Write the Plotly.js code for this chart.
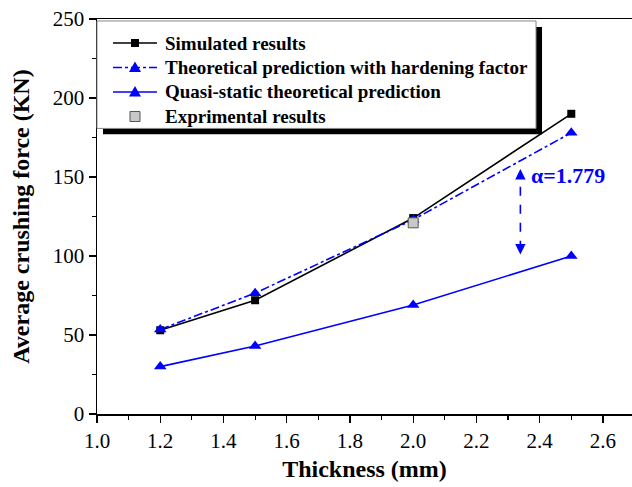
<!DOCTYPE html>
<html>
<head>
<meta charset="utf-8">
<script src="https://cdn.plot.ly/plotly-3.0.1.min.js"></script>
<style>html,body{margin:0;padding:0;background:#fff;}#chart{width:632px;height:487px;}</style>
</head>
<body>
<div id="chart"></div>
<script>
// ---- data ----
const thickness = [1.2, 1.5, 2.0, 2.5];
const simulated = [53, 72, 124, 190];
const hardening = [53.5, 76.5, 123, 178];
const quasiStatic = [30, 43, 69, 100];
const expThickness = [2.0];
const experimental = [121];
const seriesNames = ['Simulated results', 'Theoretical prediction with hardening factor',
                     'Quasi-static theoretical prediction', 'Exprimental results'];
const xTickVals = [1.0, 1.2, 1.4, 1.6, 1.8, 2.0, 2.2, 2.4, 2.6];
const xTickText = ['1.0', '1.2', '1.4', '1.6', '1.8', '2.0', '2.2', '2.4', '2.6'];
const yTickVals = [0, 50, 100, 150, 200, 250];
const alphaLabel = 'α=1.779';
const alphaArrowX = 2.339;
const alphaArrowTop = 155;
const alphaArrowBottom = 101;
const alphaTextPos = [2.49, 151];

const FONT = 'Liberation Serif, Times New Roman, serif';
const BLUE = '#0000ff';

const styles = [
  {line: {color: '#000', width: 1.6}, marker: {symbol: 'square', size: 8, color: '#000'}},
  {line: {color: BLUE, width: 1.6, dash: 'dashdot'}, marker: {symbol: 'triangle-up', size: 11, color: BLUE}},
  {line: {color: BLUE, width: 1.6}, marker: {symbol: 'triangle-up', size: 11, color: BLUE}},
  {line: null, marker: {symbol: 'square', size: 10, color: '#c8c8c8', line: {color: '#555', width: 1}}}
];

const traces = [
  {x: thickness, y: simulated, name: seriesNames[0], mode: 'lines+markers', line: styles[0].line, marker: styles[0].marker},
  {x: thickness, y: hardening, name: seriesNames[1], mode: 'lines+markers', line: styles[1].line, marker: styles[1].marker},
  {x: thickness, y: quasiStatic, name: seriesNames[2], mode: 'lines+markers', line: styles[2].line, marker: styles[2].marker},
  {x: expThickness, y: experimental, name: seriesNames[3], mode: 'markers', marker: styles[3].marker}
];

// ---- legend drawn as shapes + annotations (box with drop shadow) ----
const legRowsY = [0.9392, 0.8772, 0.8152, 0.7532];
const legLineX = [0.0299, 0.1121];
const legMarkX = 0.0710;
const legTextX = 0.1234;
const legendShapes = [
  {type: 'rect', xref: 'paper', yref: 'paper', x0: 0.0112, x1: 0.8318, y0: 0.708, y1: 0.98,
   fillcolor: '#000', line: {width: 0}, layer: 'above'},
  {type: 'rect', xref: 'paper', yref: 'paper', x0: 0.0, x1: 0.8206, y0: 0.723, y1: 0.995,
   fillcolor: '#fff', line: {color: '#888', width: 1}, layer: 'above'}
];
const legendAnn = [];
const sq = s => 'M' + (-s) + ',' + (-s) + ' L' + s + ',' + (-s) + ' L' + s + ',' + s + ' L' + (-s) + ',' + s + ' Z';
const tri = 'M-6,-4.5 L6,-4.5 L0,6 Z';
styles.forEach((st, i) => {
  const yy = legRowsY[i];
  if (st.line) {
    legendShapes.push({type: 'line', xref: 'paper', yref: 'paper', x0: legLineX[0], x1: legLineX[1], y0: yy, y1: yy,
      line: {color: st.line.color, width: st.line.width, dash: st.line.dash || 'solid'}, layer: 'above'});
  }
  const m = st.marker;
  const path = m.symbol === 'square' ? sq(m.size / 2) : tri;
  legendShapes.push({type: 'path', xref: 'paper', yref: 'paper', xsizemode: 'pixel', ysizemode: 'pixel',
    xanchor: legMarkX, yanchor: yy, path: path, fillcolor: m.color,
    line: {color: m.line ? m.line.color : m.color, width: m.line ? m.line.width : 0}, layer: 'above'});
  legendAnn.push({xref: 'paper', yref: 'paper', x: legTextX, y: yy, xanchor: 'left', yanchor: 'middle',
    text: '<b>' + seriesNames[i] + '</b>', showarrow: false, font: {family: FONT, size: 19, color: '#000'}});
});

const layout = {
  width: 632, height: 487,
  margin: {l: 97, r: 0, t: 19, b: 73},
  paper_bgcolor: '#fff', plot_bgcolor: '#fff',
  font: {family: FONT, color: '#000', size: 21},
  showlegend: false,
  xaxis: {range: [1.0, 2.692], tickvals: xTickVals, ticktext: xTickText,
    showgrid: false, zeroline: false, showline: true, linecolor: '#000', linewidth: 1.5,
    mirror: true, ticks: 'outside', ticklen: 7, tickwidth: 1.2, tickcolor: '#000',
    minor: {dtick: 0.1, ticks: 'outside', ticklen: 4, tickwidth: 1.2, tickcolor: '#000'},
    tickfont: {family: FONT, size: 21},
    title: {text: 'Thickness (mm)', font: {family: FONT, size: 24, weight: 'bold'}, standoff: 8}},
  yaxis: {range: [0, 250], tickvals: yTickVals,
    showgrid: false, zeroline: false, showline: true, linecolor: '#000', linewidth: 1.5,
    ticks: 'outside', ticklen: 7, tickwidth: 1.2, tickcolor: '#000',
    minor: {dtick: 25, ticks: 'outside', ticklen: 4, tickwidth: 1.2, tickcolor: '#000'},
    tickfont: {family: FONT, size: 21},
    title: {text: 'Average crushing force (KN)', font: {family: FONT, size: 24, weight: 'bold'}, standoff: 16}},
  shapes: legendShapes.concat([
    {type: 'line', xref: 'x', yref: 'y', x0: alphaArrowX, x1: alphaArrowX,
     y0: alphaArrowBottom + 3, y1: alphaArrowTop - 3, line: {color: BLUE, width: 1.6, dash: 'dash'}}
  ]),
  annotations: legendAnn.concat([
    {x: alphaTextPos[0], y: alphaTextPos[1], xref: 'x', yref: 'y', text: '<b>' + alphaLabel + '</b>',
     showarrow: false, font: {family: FONT, size: 22, color: BLUE}},
    {x: alphaArrowX, y: alphaArrowTop, xref: 'x', yref: 'y', text: '', showarrow: true,
     ax: 0, ay: 9, arrowhead: 2, arrowsize: 1.3, arrowwidth: 1.6, arrowcolor: BLUE, standoff: 0},
    {x: alphaArrowX, y: alphaArrowBottom, xref: 'x', yref: 'y', text: '', showarrow: true,
     ax: 0, ay: -9, arrowhead: 2, arrowsize: 1.3, arrowwidth: 1.6, arrowcolor: BLUE, standoff: 0}
  ])
};

Plotly.newPlot('chart', traces, layout, {displayModeBar: false, staticPlot: true});
</script>
</body>
</html>
